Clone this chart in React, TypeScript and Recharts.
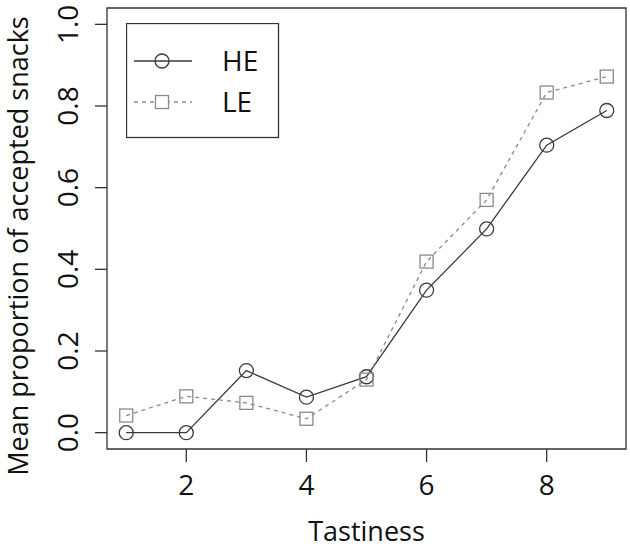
import {
  LineChart, Line, XAxis, YAxis, ReferenceArea,
} from 'recharts'

const tastiness = [1, 2, 3, 4, 5, 6, 7, 8, 9]
const heValues = [0.0, 0.0, 0.152, 0.087, 0.137, 0.349, 0.499, 0.704, 0.789]
const leValues = [0.042, 0.089, 0.073, 0.034, 0.13, 0.419, 0.57, 0.833, 0.872]
const xTicks = [2, 4, 6, 8]
const yTicks = [0, 0.2, 0.4, 0.6, 0.8, 1.0]
const seriesNames = ['HE', 'LE']

const FONT = '"Open Sans", sans-serif'
const FS = 28
const HE_COL = '#3a3a3a'
const LE_COL = '#8a8a8a'

const data = tastiness.map((t, i) => ({ t, he: heValues[i], le: leValues[i] }))

function YTick({ x, y, payload }: any) {
  return (
    <text x={x} y={y} transform={`rotate(-90, ${x}, ${y})`} textAnchor="middle"
      fontFamily={FONT} fontSize={FS} fill="#111">
      {Number(payload.value).toFixed(1)}
    </text>
  )
}

function XTick({ x, y, payload }: any) {
  return (
    <text x={x} y={y} dy={31} textAnchor="middle" fontFamily={FONT} fontSize={FS} fill="#111">
      {payload.value}
    </text>
  )
}

function SquareDot({ cx, cy }: any) {
  if (cx == null || cy == null) return null
  return <rect x={cx - 6.5} y={cy - 6.5} width={13} height={13} fill="none" stroke={LE_COL} strokeWidth={1.3} />
}

function CircleDot({ cx, cy }: any) {
  if (cx == null || cy == null) return null
  return <circle cx={cx} cy={cy} r={7} fill="none" stroke={HE_COL} strokeWidth={1.3} />
}

// legend drawn as an overlay, recharts' Legend would eat plot space
function LegendBox() {
  return (
    <svg width={154} height={116} style={{ position: 'absolute', left: 126, top: 23 }}>
      <rect x={0.5} y={0.5} width={152} height={114} fill="white" stroke="#333" strokeWidth={1.3} />
      <line x1={8} y1={38} x2={66} y2={38} stroke={HE_COL} strokeWidth={1.3} />
      <circle cx={36} cy={38} r={7} fill="none" stroke={HE_COL} strokeWidth={1.3} />
      <text x={96} y={48} fontFamily={FONT} fontSize={FS} fill="#111">{seriesNames[0]}</text>
      <line x1={8} y1={79} x2={66} y2={79} stroke={LE_COL} strokeWidth={1.3} strokeDasharray="4 4" />
      <rect x={29.5} y={72.5} width={13} height={13} fill="white" stroke={LE_COL} strokeWidth={1.3} />
      <text x={96} y={89} fontFamily={FONT} fontSize={FS} fill="#111">{seriesNames[1]}</text>
    </svg>
  )
}

export default function App() {
  return (
    <div style={{ position: 'absolute', left: 0, top: 0, width: 630, height: 550, background: 'white' }}>
      <LineChart width={630} height={550} data={data}
        margin={{ top: 8, right: 4, left: 0, bottom: 0 }}>
        <XAxis dataKey="t" type="number" domain={[0.68, 9.32]} ticks={xTicks}
          axisLine={false} tickSize={13} tickLine={{ stroke: '#333', strokeWidth: 1.3 }}
          tick={<XTick />} height={101} interval={0}
          label={({ viewBox }: any) => (
            <text x={viewBox.x + viewBox.width / 2} y={541} textAnchor="middle"
              fontFamily={FONT} fontSize={27} fill="#111">Tastiness</text>
          )} />
        <YAxis type="number" domain={[-0.04, 1.04]} ticks={yTicks} width={107}
          axisLine={false} tickSize={12} tickMargin={17} tickLine={{ stroke: '#333', strokeWidth: 1.3 }}
          tick={<YTick />} interval={0}
          label={() => (
            <text x={28} y={246} transform="rotate(-90, 28, 246)" textAnchor="middle"
              fontFamily={FONT} fontSize={27} fill="#111">Mean proportion of accepted snacks</text>
          )} />
        <ReferenceArea x1={0.68} x2={9.32} y1={-0.04} y2={1.04} fill="none"
          stroke="#333" strokeWidth={1.3} ifOverflow="visible" />
        <Line dataKey="he" name={seriesNames[0]} type="linear" stroke={HE_COL} strokeWidth={1.3}
          dot={<CircleDot />} activeDot={false} isAnimationActive={false} />
        <Line dataKey="le" name={seriesNames[1]} type="linear" stroke={LE_COL} strokeWidth={1.3}
          strokeDasharray="4 4" dot={<SquareDot />} activeDot={false} isAnimationActive={false} />
      </LineChart>
      <LegendBox />
    </div>
  )
}
